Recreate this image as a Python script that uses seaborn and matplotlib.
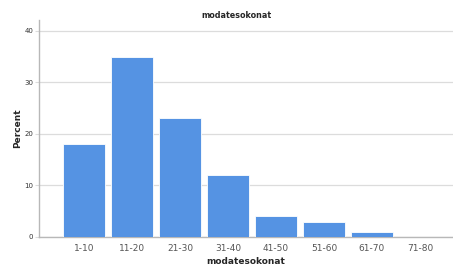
import matplotlib
matplotlib.use("Agg")
import matplotlib.pyplot as plt
import seaborn as sns
import pandas as pd

categories = ["1-10", "11-20", "21-30", "31-40", "41-50", "51-60", "61-70", "71-80"]
percent = [18, 35, 23, 12, 4, 3, 1, 0]

df = pd.DataFrame({"cat": categories, "pct": percent})

sns.set_style("white")
plt.rcParams['font.family'] = ['DejaVu Sans']

fig = plt.figure(figsize=(4.53, 2.65), dpi=100)
ax = fig.add_axes([0.0861, 0.1057, 0.9139, 0.8188])

sns.barplot(data=df, x="cat", y="pct", color="#5593E3", saturation=1,
            width=0.875, edgecolor="white", linewidth=0.6, ax=ax, zorder=3)

ax.set_xlim(-0.94, 7.69)
ax.set_ylim(0, 42.1)
ax.set_yticks([0, 10, 20, 30, 40])
ax.yaxis.grid(True, color="#dcdcdc", linewidth=0.9, zorder=0)
ax.set_axisbelow(True)
for s in ["top", "right"]:
    ax.spines[s].set_visible(False)
ax.spines["left"].set_color("#b8b8b8")
ax.spines["bottom"].set_color("#b8b8b8")
ax.spines["left"].set_linewidth(1.0)
ax.spines["bottom"].set_linewidth(1.0)
ax.tick_params(axis="y", labelsize=5, colors="#dcdcdc", length=3, width=0.8, pad=1, left=True)
ax.tick_params(axis="x", labelsize=6.5, colors="#555555", length=0, pad=5)
for t in ax.get_yticklabels():
    t.set_color("#333333")

ax.set_title("modatesokonat", fontsize=5.8, fontweight="bold", pad=1.5, x=0.478)
ax.set_ylabel("Percent", fontsize=6.5, fontweight="bold", labelpad=2)
ax.set_xlabel("modatesokonat", fontsize=6.5, fontweight="bold", labelpad=3)

fig.savefig("out.png", dpi=100)
